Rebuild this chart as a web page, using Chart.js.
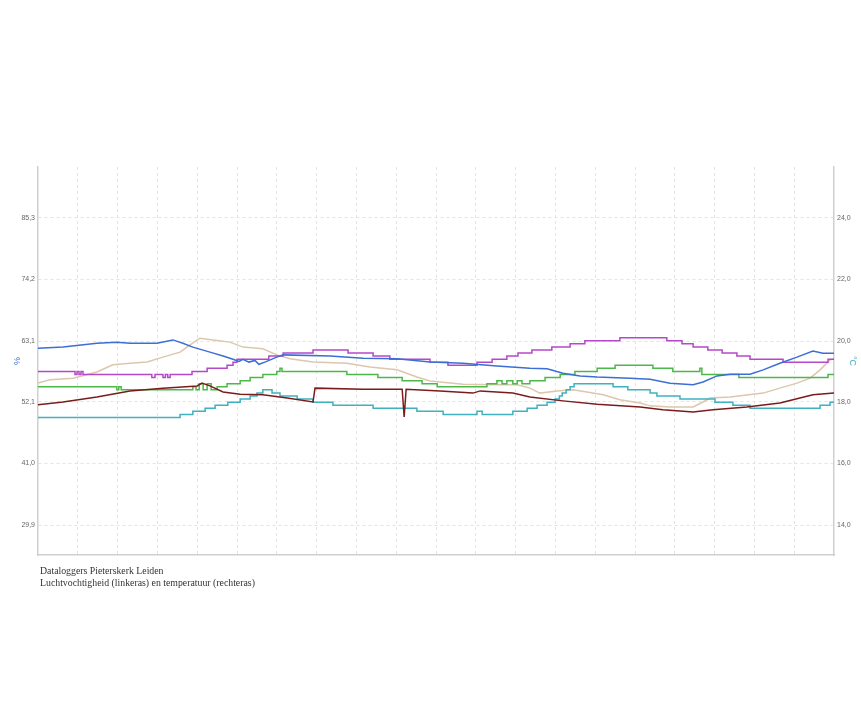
<!DOCTYPE html>
<html>
<head>
<meta charset="utf-8">
<script src="https://cdn.jsdelivr.net/npm/chart.js@4/dist/chart.umd.min.js"></script>
<style>
  body { margin: 0; background: #fff; }
  #wrap { position: relative; width: 861px; height: 720px; }
  #caption {
    position: absolute; left: 40px; top: 565px;
    font-family: "Liberation Serif", "DejaVu Serif", serif;
    font-size: 9.8px; line-height: 12px; color: #333;
  }
</style>
</head>
<body>
<div id="wrap">
  <canvas id="loggerChart"></canvas>
  <div id="caption">Dataloggers Pieterskerk Leiden<br>Luchtvochtigheid (linkeras) en temperatuur (rechteras)</div>
</div>
<script>
// tick labels of both axes
const humTicks = [29.9, 41.0, 52.1, 63.1, 74.2, 85.3];
const tempTicks = [14, 16, 18, 20, 22, 24];

// humidity (%), left axis - time in grid units (10 per gridline)
const blueX = [0, 6.3, 14.8, 19.8, 23.1, 29.9, 33.9, 36.4, 38.9, 43.2, 46.5, 49, 50.5, 51.5, 53, 54.5, 55.5, 57, 60, 61.6, 73.4, 81.7, 90.2, 98.5, 106.8, 115.3, 123.6, 127.9, 131.9, 136.2, 140.5, 148.7, 153.8, 158.8, 164.6, 167.1, 170.6, 173.9, 178.9, 182.2, 186.4, 190.7, 194.7, 197.2, 200];
const blueY = [61.8, 62.0, 62.7, 62.9, 62.7, 62.7, 63.3, 62.7, 62.0, 61.1, 60.4, 59.8, 59.4, 59.8, 59.3, 59.6, 58.9, 59.3, 60.2, 60.6, 60.4, 60.0, 59.9, 59.3, 59.1, 58.6, 58.2, 58.1, 57.3, 56.8, 56.6, 56.4, 56.2, 55.5, 55.2, 55.7, 56.8, 57.1, 57.1, 57.9, 59.1, 60.2, 61.3, 60.9, 60.9];

const tanX = [0, 3, 8.8, 14.8, 18.8, 23.1, 27.4, 31.4, 35.7, 38.2, 40.7, 44, 48.2, 51.5, 56.5, 60, 63.3, 69.1, 77.6, 83.4, 90.2, 95.2, 98.5, 106.8, 115.3, 120.4, 123.6, 126.1, 130.4, 134.4, 137.9, 142, 146.2, 151.3, 153.8, 158.8, 164.6, 167.1, 168.8, 173.9, 182.2, 186.4, 190.7, 194, 196.5, 199, 200];
const tanY = [55.5, 56.1, 56.4, 57.5, 58.8, 59.1, 59.3, 60.2, 61.1, 62.4, 63.6, 63.3, 62.9, 62.0, 61.7, 60.6, 59.9, 59.3, 59.1, 58.4, 57.9, 56.6, 55.9, 55.3, 55.2, 55.2, 54.6, 53.7, 54.1, 54.3, 53.9, 53.4, 52.5, 51.9, 51.4, 51.2, 51.2, 52.1, 52.8, 53.0, 53.7, 54.6, 55.5, 56.4, 57.9, 59.7, 59.9];

const brownX = [0, 6.3, 14.8, 23.1, 31.4, 40, 41.2, 43.2, 46.5, 50.8, 56.5, 62.6, 69.1, 69.6, 81.7, 91.5, 92, 92.5, 101, 109.3, 111.1, 119.3, 123.6, 131.9, 140.5, 151.3, 157, 164.6, 169.6, 178.1, 186.4, 194.7, 200];
const brownY = [51.6, 52.1, 53.0, 54.1, 54.6, 55.0, 55.5, 55.0, 53.9, 53.5, 53.4, 52.8, 52.1, 54.6, 54.4, 54.4, 49.4, 54.4, 54.1, 53.7, 54.1, 53.7, 53.0, 52.3, 51.7, 51.2, 50.7, 50.3, 50.7, 51.2, 51.9, 53.4, 53.7];

// temperature (°C), right axis - each value holds until the next x
const magentaX = [0, 9.3, 9.8, 10.3, 10.8, 11.3, 28.6, 29.4, 31.4, 32, 32.6, 33.2, 38.7, 42.5, 47.5, 49, 50, 58, 61.6, 69.1, 77.9, 84.2, 88.4, 98.5, 103, 110.3, 114.1, 117.8, 120.6, 124.1, 129.1, 133.7, 137.4, 146.2, 158, 161.8, 164.6, 168.3, 171.9, 175.6, 178.9, 187.2, 198.5, 200];
const magentaY = [19.0, 18.9, 19.0, 18.9, 19.0, 18.9, 18.8, 18.9, 18.8, 18.9, 18.8, 18.9, 19.0, 19.1, 19.2, 19.3, 19.4, 19.5, 19.6, 19.7, 19.6, 19.5, 19.4, 19.3, 19.2, 19.3, 19.4, 19.5, 19.6, 19.7, 19.8, 19.9, 20.0, 20.1, 20.0, 19.9, 19.8, 19.7, 19.6, 19.5, 19.4, 19.3, 19.4, 19.4];

const greenX = [0, 19.8, 20.3, 20.9, 38.9, 39.7, 40.5, 41.5, 42.5, 43.5, 45, 47.5, 50.8, 53.3, 56.5, 60, 60.8, 61.3, 77.6, 85.4, 91.5, 96.5, 100.3, 112.8, 115.3, 116.6, 117.8, 119.3, 120.4, 121.6, 123.6, 127.4, 131.2, 134.9, 140.5, 145, 154.5, 159.5, 166.3, 166.8, 176.1, 198.5, 200];
const greenY = [18.5, 18.4, 18.5, 18.4, 18.5, 18.4, 18.6, 18.4, 18.6, 18.4, 18.5, 18.6, 18.7, 18.8, 18.9, 19.0, 19.1, 19.0, 18.9, 18.8, 18.7, 18.6, 18.5, 18.6, 18.7, 18.6, 18.7, 18.6, 18.7, 18.6, 18.7, 18.8, 18.9, 19.0, 19.1, 19.2, 19.1, 19.0, 19.1, 18.9, 18.8, 18.9, 18.9];

const tealX = [0, 35.7, 38.9, 42, 44.5, 47.7, 50.8, 53.3, 55, 56.5, 58.8, 60.8, 65.1, 69.1, 74.1, 84.2, 95.2, 101.8, 110.3, 111.6, 119.3, 122.9, 125.4, 127.9, 129.9, 131, 131.7, 132.7, 133.7, 134.7, 144.5, 148.2, 153.8, 155.5, 161.3, 170.1, 174.6, 178.9, 196.5, 199, 200];
const tealY = [17.5, 17.6, 17.7, 17.8, 17.9, 18.0, 18.1, 18.2, 18.3, 18.4, 18.3, 18.2, 18.1, 18.0, 17.9, 17.8, 17.7, 17.6, 17.7, 17.6, 17.7, 17.8, 17.9, 18.0, 18.1, 18.2, 18.3, 18.4, 18.5, 18.6, 18.5, 18.4, 18.3, 18.2, 18.1, 18.0, 17.9, 17.8, 17.9, 18.0, 18.0];

const pts = (xs, ys) => xs.map((x, i) => ({ x: x, y: ys[i] }));
const comma = v => Number(v).toFixed(1).replace('.', ',');

const line = (xs, ys, color, axis, stepped) => ({
  data: pts(xs, ys),
  borderColor: color,
  borderWidth: 1.5,
  pointRadius: 0,
  fill: false,
  yAxisID: axis,
  stepped: stepped ? 'before' : false,
  tension: 0
});

const ctx = document.getElementById('loggerChart').getContext('2d');
new Chart(ctx, {
  type: 'line',
  data: {
    datasets: [
      line(blueX, blueY, '#3b6fd4', 'hum', false),
      line(brownX, brownY, '#7a1c1c', 'hum', false),
      line(magentaX, magentaY, '#b548c9', 'temp', true),
      line(greenX, greenY, '#4db84a', 'temp', true),
      line(tealX, tealY, '#3fb1c0', 'temp', true),
      line(tanX, tanY, '#dcc7ad', 'hum', false)
    ]
  },
  options: {
    responsive: true,
    maintainAspectRatio: false,
    animation: false,
    layout: { padding: { top: 167, bottom: 165, left: 0, right: 0 } },
    plugins: { legend: { display: false }, tooltip: { enabled: false } },
    scales: {
      x: {
        type: 'linear',
        min: 0,
        max: 200,
        ticks: { stepSize: 10, display: false },
        grid: {
          drawTicks: false,
          color: c => (c.tick && (c.tick.value === 0 || c.tick.value === 200)) ? 'rgba(0,0,0,0)' : '#e4e4e4'
        },
        border: { display: true, color: '#cfcfcf', width: 1.5, dash: [3, 3] },
        afterFit: s => { s.height = 0; }
      },
      hum: {
        position: 'left',
        min: 24.49,
        max: 94.5,
        afterBuildTicks: s => { s.ticks = humTicks.map(v => ({ value: v })); },
        ticks: {
          callback: v => comma(v),
          font: { family: 'Liberation Sans', size: 7 },
          color: '#666',
          padding: 3
        },
        grid: { drawTicks: false, color: '#e4e4e4' },
        border: { display: true, color: '#cfcfcf', width: 1.5, dash: [3, 3] },
        title: {
          display: true,
          text: '%',
          color: '#3b6fd4',
          font: { family: 'Liberation Sans', size: 9 },
          padding: { top: 12, bottom: 0 }
        },
        afterFit: s => { s.width = 38; }
      },
      temp: {
        position: 'right',
        min: 13.02,
        max: 25.66,
        afterBuildTicks: s => { s.ticks = tempTicks.map(v => ({ value: v })); },
        ticks: {
          callback: v => comma(v),
          font: { family: 'Liberation Sans', size: 7 },
          color: '#666',
          padding: 3
        },
        grid: { drawOnChartArea: false, drawTicks: false },
        border: { display: true, color: '#cfcfcf', width: 1.5 },
        title: {
          display: true,
          text: '°C',
          color: '#3fb1c0',
          font: { family: 'Liberation Sans', size: 9 },
          padding: { top: 3, bottom: 0 }
        },
        afterFit: s => { s.width = 27; }
      }
    }
  }
});
</script>
</body>
</html>
